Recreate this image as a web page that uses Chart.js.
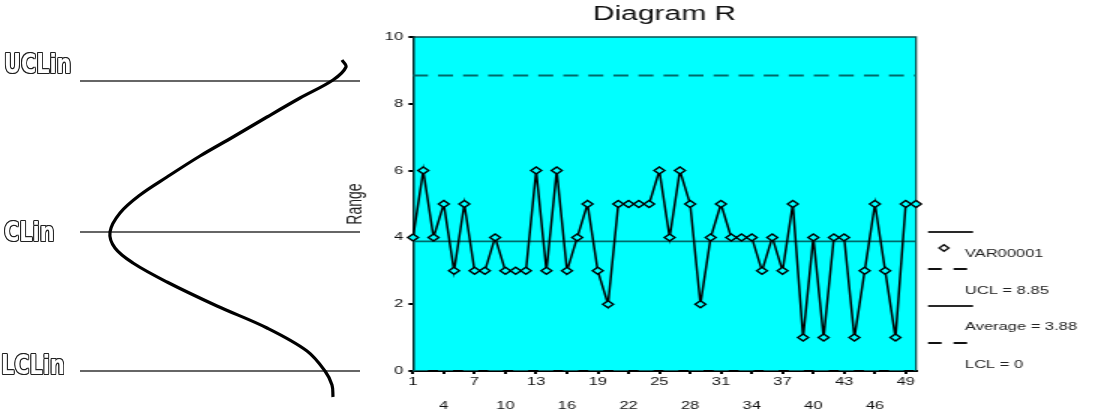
<!DOCTYPE html>
<html>
<head>
<meta charset="utf-8">
<script src="https://cdn.jsdelivr.net/npm/chart.js@4.4.1/dist/chart.umd.min.js"></script>
<style>
  html, body { margin: 0; padding: 0; background: #fff; width: 1110px; height: 416px; overflow: hidden; }
  #left { position: absolute; left: 0; top: 0; }
  /* the R chart in the picture is stretched sideways, so is this one */
  #main { position: absolute; left: 330px; top: 0; transform: scaleX(1.5); transform-origin: 0 0; }
  .lim {
    position: absolute; white-space: nowrap;
    font-family: "DejaVu Sans", sans-serif; font-weight: bold;
    font-size: 26px; line-height: 26px;
    color: #fff;
    text-shadow: -1.2px 0 #222, 1.2px 0 #222, 0 -1.2px #222, 0 1.2px #222,
                 -1px -1px #222, 1px -1px #222, -1px 1px #222, 1px 1px #222;
    transform: scaleX(0.8); transform-origin: 0 0;
  }
</style>
</head>
<body>
<canvas id="left" width="380" height="416"></canvas>
<canvas id="main" width="520" height="416"></canvas>
<div class="lim" style="left:4px;top:51px">UCLin</div>
<div class="lim" style="left:4px;top:219px">CLin</div>
<div class="lim" style="left:1px;top:352px">LCLin</div>

<script>
// ---- R chart data ----
var samples = [];
for (var i = 1; i <= 50; i++) samples.push(String(i));

var ranges = [4, 6, 4, 5, 3, 5, 3, 3, 4, 3,
              3, 3, 6, 3, 6, 3, 4, 5, 3, 2,
              5, 5, 5, 5, 6, 4, 6, 5, 2, 4,
              5, 4, 4, 4, 3, 4, 3, 5, 1, 4,
              1, 4, 4, 1, 3, 5, 3, 1, 5, 5];

var ucl = 8.85;
var average = 3.88;
var lcl = 0;

var legendLabels = ['VAR00001', 'UCL = 8.85', 'Average = 3.88', 'LCL = 0'];

// ---- sideways bell curve (pixels) ----
var curveX = [342, 346, 333, 300, 267, 233, 200, 167, 140, 120, 110,
              115, 133, 167, 217, 267, 307, 325, 332, 333];
var curveY = [60, 67, 80, 98, 117, 137, 156, 177, 195, 213, 232,
              248, 263, 282, 306, 328, 351, 371, 385, 397];
var limitY = [81, 232, 371];
var limitFrom = 80, limitTo = 360;

var FONT = '"Liberation Sans", Arial, sans-serif';
var CYAN = '#00ffff';
var TEAL = '#006a6a';

function constLine(v) {
  return samples.map(function () { return v; });
}

// cyan plot area with a thin dark frame on top and right
var plotBg = {
  id: 'plotBg',
  beforeDraw: function (chart) {
    var a = chart.chartArea, ctx = chart.ctx;
    ctx.save();
    ctx.fillStyle = CYAN;
    ctx.fillRect(a.left, a.top, a.right - a.left, a.bottom - a.top);
    ctx.strokeStyle = '#0b4f4f';
    ctx.lineWidth = 1.3;
    ctx.beginPath();
    ctx.moveTo(a.left, a.top);
    ctx.lineTo(a.right, a.top);
    ctx.lineTo(a.right, a.bottom);
    ctx.stroke();
    ctx.restore();
  }
};

// legend on the right: line sample above each label
var sideLegend = {
  id: 'sideLegend',
  afterDraw: function (chart) {
    var ctx = chart.ctx;
    var x0 = 398.7, x1 = 428.7, tx = 423.3;
    var lineY = [232, 269, 306, 343];
    var textY = [254, 291, 327, 365];
    var dashed = [false, true, false, true];
    ctx.save();
    ctx.strokeStyle = '#111';
    ctx.lineWidth = 1.8;
    for (var k = 0; k < 4; k++) {
      ctx.setLineDash(dashed[k] ? [9, 8] : []);
      ctx.beginPath();
      ctx.moveTo(x0, lineY[k]);
      ctx.lineTo(x1, lineY[k]);
      ctx.stroke();
    }
    ctx.setLineDash([]);
    // diamond marker
    ctx.lineWidth = 1.4;
    ctx.beginPath();
    ctx.moveTo(409.3 - 3.2, 248);
    ctx.lineTo(409.3, 248 - 3.2);
    ctx.lineTo(409.3 + 3.2, 248);
    ctx.lineTo(409.3, 248 + 3.2);
    ctx.closePath();
    ctx.stroke();
    ctx.fillStyle = '#222';
    ctx.font = '11px ' + FONT;
    ctx.textBaseline = 'middle';
    ctx.textAlign = 'left';
    for (var k = 0; k < 4; k++) ctx.fillText(legendLabels[k], tx, textY[k]);
    ctx.restore();
  }
};

new Chart(document.getElementById('main'), {
  type: 'line',
  data: {
    labels: samples,
    datasets: [
      {
        label: legendLabels[0],
        data: ranges,
        borderColor: '#000',
        borderWidth: 1.5,
        pointStyle: 'rectRot',
        pointRadius: 3.5,
        pointBackgroundColor: CYAN,
        pointBorderColor: '#000',
        pointBorderWidth: 1.4,
        tension: 0,
        clip: false,
        order: 0
      },
      {
        label: legendLabels[1],
        data: constLine(ucl),
        borderColor: TEAL,
        borderWidth: 2,
        borderDash: [10, 6.7],
        pointRadius: 0,
        order: 1
      },
      {
        label: legendLabels[2],
        data: constLine(average),
        borderColor: TEAL,
        borderWidth: 1.8,
        pointRadius: 0,
        order: 1
      },
      {
        label: legendLabels[3],
        data: constLine(lcl),
        borderColor: TEAL,
        borderWidth: 2,
        borderDash: [10, 6.7],
        pointRadius: 0,
        order: 1
      }
    ]
  },
  options: {
    responsive: false,
    animation: false,
    devicePixelRatio: 1,
    layout: { padding: { left: 0, right: 129.33, top: 0, bottom: 0 } },
    plugins: {
      legend: { display: false },
      tooltip: { enabled: false },
      title: {
        display: true,
        text: 'Diagram R',
        fullSize: false,
        color: '#111',
        font: { family: FONT, size: 20, weight: 'normal' },
        padding: { top: 2, bottom: 11 }
      }
    },
    scales: {
      x: {
        type: 'category',
        offset: false,
        z: 1,
        afterFit: function (s) { s.height = 45; },
        border: { display: true, color: '#000', width: 2 },
        grid: {
          drawOnChartArea: false,
          drawTicks: true,
          tickLength: 3,
          lineWidth: 2,
          color: function (c) { return c.index % 3 === 0 ? '#000' : 'rgba(0,0,0,0)'; }
        },
        ticks: {
          autoSkip: false,
          maxRotation: 0,
          padding: -4,
          color: '#111',
          font: { family: FONT, size: 11, lineHeight: '24px' },
          callback: function (v, idx) {
            var lab = this.getLabelForValue(v);
            if (idx % 6 === 0) return [lab];
            if (idx % 6 === 3) return ['', lab];
            return '';
          }
        }
      },
      y: {
        min: 0,
        max: 10,
        afterFit: function (s) { s.width = 55.33; },
        border: { display: true, color: '#0a2a2a', width: 1.5 },
        grid: { drawOnChartArea: false, drawTicks: true, tickLength: 3, lineWidth: 2, color: '#000' },
        ticks: {
          stepSize: 2,
          padding: 3.5,
          color: '#111',
          font: { family: FONT, size: 11 }
        },
        title: {
          display: true,
          text: 'Range',
          color: '#222',
          font: { family: FONT, size: 14 },
          padding: { top: 8.5, bottom: 0 }
        }
      }
    }
  },
  plugins: [plotBg, sideLegend]
});

// ---- left drawing: bell curve and the three limit lines ----
var curvePts = curveX.map(function (x, k) { return { x: x, y: curveY[k] }; });
var limitSets = limitY.map(function (y) {
  return {
    data: [{ x: limitFrom, y: y }, { x: limitTo, y: y }],
    showLine: true,
    borderColor: '#333',
    borderWidth: 1.6,
    pointRadius: 0,
    clip: false
  };
});

new Chart(document.getElementById('left'), {
  type: 'scatter',
  data: {
    datasets: [{
      data: curvePts,
      showLine: true,
      borderColor: '#000',
      borderWidth: 3.2,
      pointRadius: 0,
      tension: 0.35,
      clip: false
    }].concat(limitSets)
  },
  options: {
    responsive: false,
    animation: false,
    devicePixelRatio: 1,
    layout: { padding: 0 },
    plugins: { legend: { display: false }, tooltip: { enabled: false } },
    scales: {
      x: { type: 'linear', min: 0, max: 380, display: false },
      y: { type: 'linear', min: 0, max: 416, reverse: true, display: false }
    }
  }
});
</script>
</body>
</html>
